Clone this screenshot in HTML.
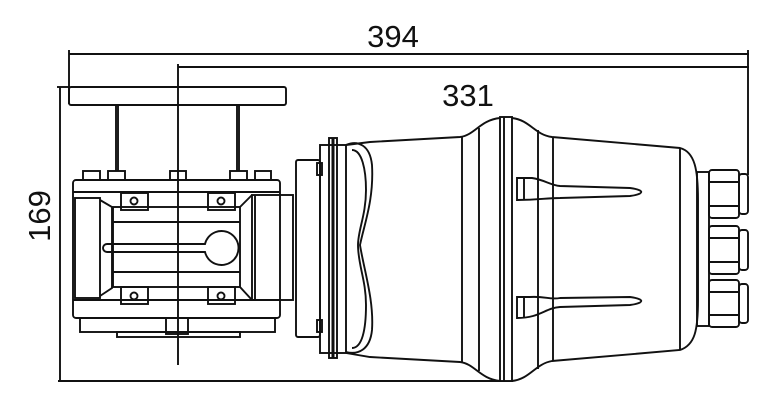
<!DOCTYPE html>
<html><head><meta charset="utf-8"><style>
html,body{margin:0;padding:0;background:#fff;}
svg{display:block;}
text{font-family:"Liberation Sans",sans-serif;fill:#111;}
</style></head><body>
<svg width="783" height="402" viewBox="0 0 783 402" xmlns="http://www.w3.org/2000/svg">
<g fill="none" stroke="#111" stroke-width="1.9">
<line x1="69" y1="54" x2="749" y2="54"/>
<line x1="69" y1="50" x2="69" y2="104"/>
<line x1="178" y1="67" x2="749" y2="67"/>
<line x1="748" y1="50" x2="748" y2="175"/>
<line x1="178" y1="64" x2="178" y2="365"/>
<line x1="60" y1="87" x2="60" y2="382"/>
<line x1="57" y1="87" x2="70" y2="87"/>
<line x1="58" y1="381" x2="513" y2="381"/>
<rect x="69" y="87" width="217" height="18" rx="2"/>
<line x1="116" y1="105" x2="116" y2="171"/>
<line x1="118" y1="105" x2="118" y2="171"/>
<line x1="237" y1="105" x2="237" y2="171"/>
<line x1="239" y1="105" x2="239" y2="171"/>
<rect x="83" y="171" width="17" height="9"/>
<rect x="108" y="171" width="17" height="9"/>
<rect x="170" y="171" width="16" height="9"/>
<rect x="230" y="171" width="17" height="9"/>
<rect x="255" y="171" width="16" height="9"/>
<rect x="73" y="180" width="207" height="138" rx="3"/>
<line x1="73" y1="192" x2="280" y2="192"/>
<line x1="73" y1="300" x2="280" y2="300"/>
<rect x="75" y="198" width="25" height="100"/>
<path d="M100 200 L112 207 L112 288 L100 296"/>
<rect x="113" y="207" width="127" height="80"/>
<line x1="113" y1="222" x2="240" y2="222"/>
<line x1="113" y1="272" x2="240" y2="272"/>
<path d="M240 207 L252 195 M240 287 L252 300"/>
<path d="M107 244 L205 244 A17 17 0 1 1 205 252 L107 252 A4 4 0 0 1 107 244 Z"/>
<rect x="121" y="193" width="27" height="17"/><circle cx="134" cy="201" r="3.5"/>
<rect x="208" y="193" width="27" height="17"/><circle cx="221" cy="201" r="3.5"/>
<rect x="121" y="287" width="27" height="17"/><circle cx="134" cy="296" r="3.5"/>
<rect x="208" y="287" width="27" height="17"/><circle cx="221" cy="296" r="3.5"/>
<rect x="252" y="195" width="41" height="105"/>
<line x1="255" y1="195" x2="255" y2="300"/>
<rect x="80" y="318" width="195" height="14"/>
<rect x="117" y="332" width="123" height="5"/>
<rect x="166" y="318" width="22" height="16"/>
<rect x="296" y="160" width="24" height="177" rx="2"/>
<rect x="320" y="145" width="26" height="208"/>
<rect x="329" y="138" width="8" height="220"/>
<line x1="333" y1="138" x2="333" y2="358" stroke-width="3"/>
<rect x="317" y="163" width="5" height="12"/>
<rect x="317" y="320" width="5" height="12"/>
<path d="M346 145 C358 140 370 145 372 165 C374 200 364 225 360 245 C364 270 374 300 372 330 C370 350 358 355 346 352"/>
<path d="M352 150 C362 150 366 170 366 190 C366 215 358 230 358 245 C358 265 366 280 366 305 C366 330 362 348 352 348"/>
<path d="M346 145 L370 142 L460 137 C475 135 480 120 500 118 L512 118 C530 120 535 135 552 137 L680 148 C695 152 698 170 698 200 L698 300 C698 330 695 345 680 350 L552 361 C535 364 530 379 512 381 L500 381 C480 379 475 364 460 362 L370 357 L346 353"/>
<rect x="500" y="117" width="12" height="264" fill="#fff"/>
<line x1="504" y1="117" x2="504" y2="381"/>
<line x1="462" y1="137" x2="462" y2="362"/>
<line x1="479" y1="128" x2="479" y2="371"/>
<line x1="538" y1="130" x2="538" y2="369"/>
<line x1="553" y1="137" x2="553" y2="361"/>
<line x1="680" y1="148" x2="680" y2="350"/>
<path d="M517 178 L532 178 C545 180 550 185 560 186 L630 188 C645 190 645 194 630 196 L560 198 C545 198 540 200 517 200 Z"/>
<line x1="524" y1="178" x2="524" y2="200"/>
<path d="M517 297 L530 297 C545 296 550 300 560 298 L630 297 C645 299 645 303 630 305 L560 307 C545 308 540 318 517 318 Z"/>
<line x1="524" y1="297" x2="524" y2="318"/>
<rect x="697" y="172" width="12" height="154"/>
<rect x="709" y="170" width="30" height="48" rx="3"/>
<rect x="739" y="174" width="9" height="40" rx="3"/>
<line x1="709" y1="182" x2="739" y2="182"/><line x1="709" y1="206" x2="739" y2="206"/>
<rect x="709" y="226" width="30" height="48" rx="3"/>
<rect x="739" y="230" width="9" height="40" rx="3"/>
<line x1="709" y1="238" x2="739" y2="238"/><line x1="709" y1="262" x2="739" y2="262"/>
<rect x="709" y="280" width="30" height="47" rx="3"/>
<rect x="739" y="284" width="9" height="39" rx="3"/>
<line x1="709" y1="292" x2="739" y2="292"/><line x1="709" y1="315" x2="739" y2="315"/>
</g>
<text x="393" y="47" font-size="31" text-anchor="middle">394</text>
<text x="468" y="106" font-size="31" text-anchor="middle">331</text>
<text x="0" y="0" font-size="31" text-anchor="middle" transform="translate(50,216) rotate(-90)">169</text>
</svg>
</body></html>
